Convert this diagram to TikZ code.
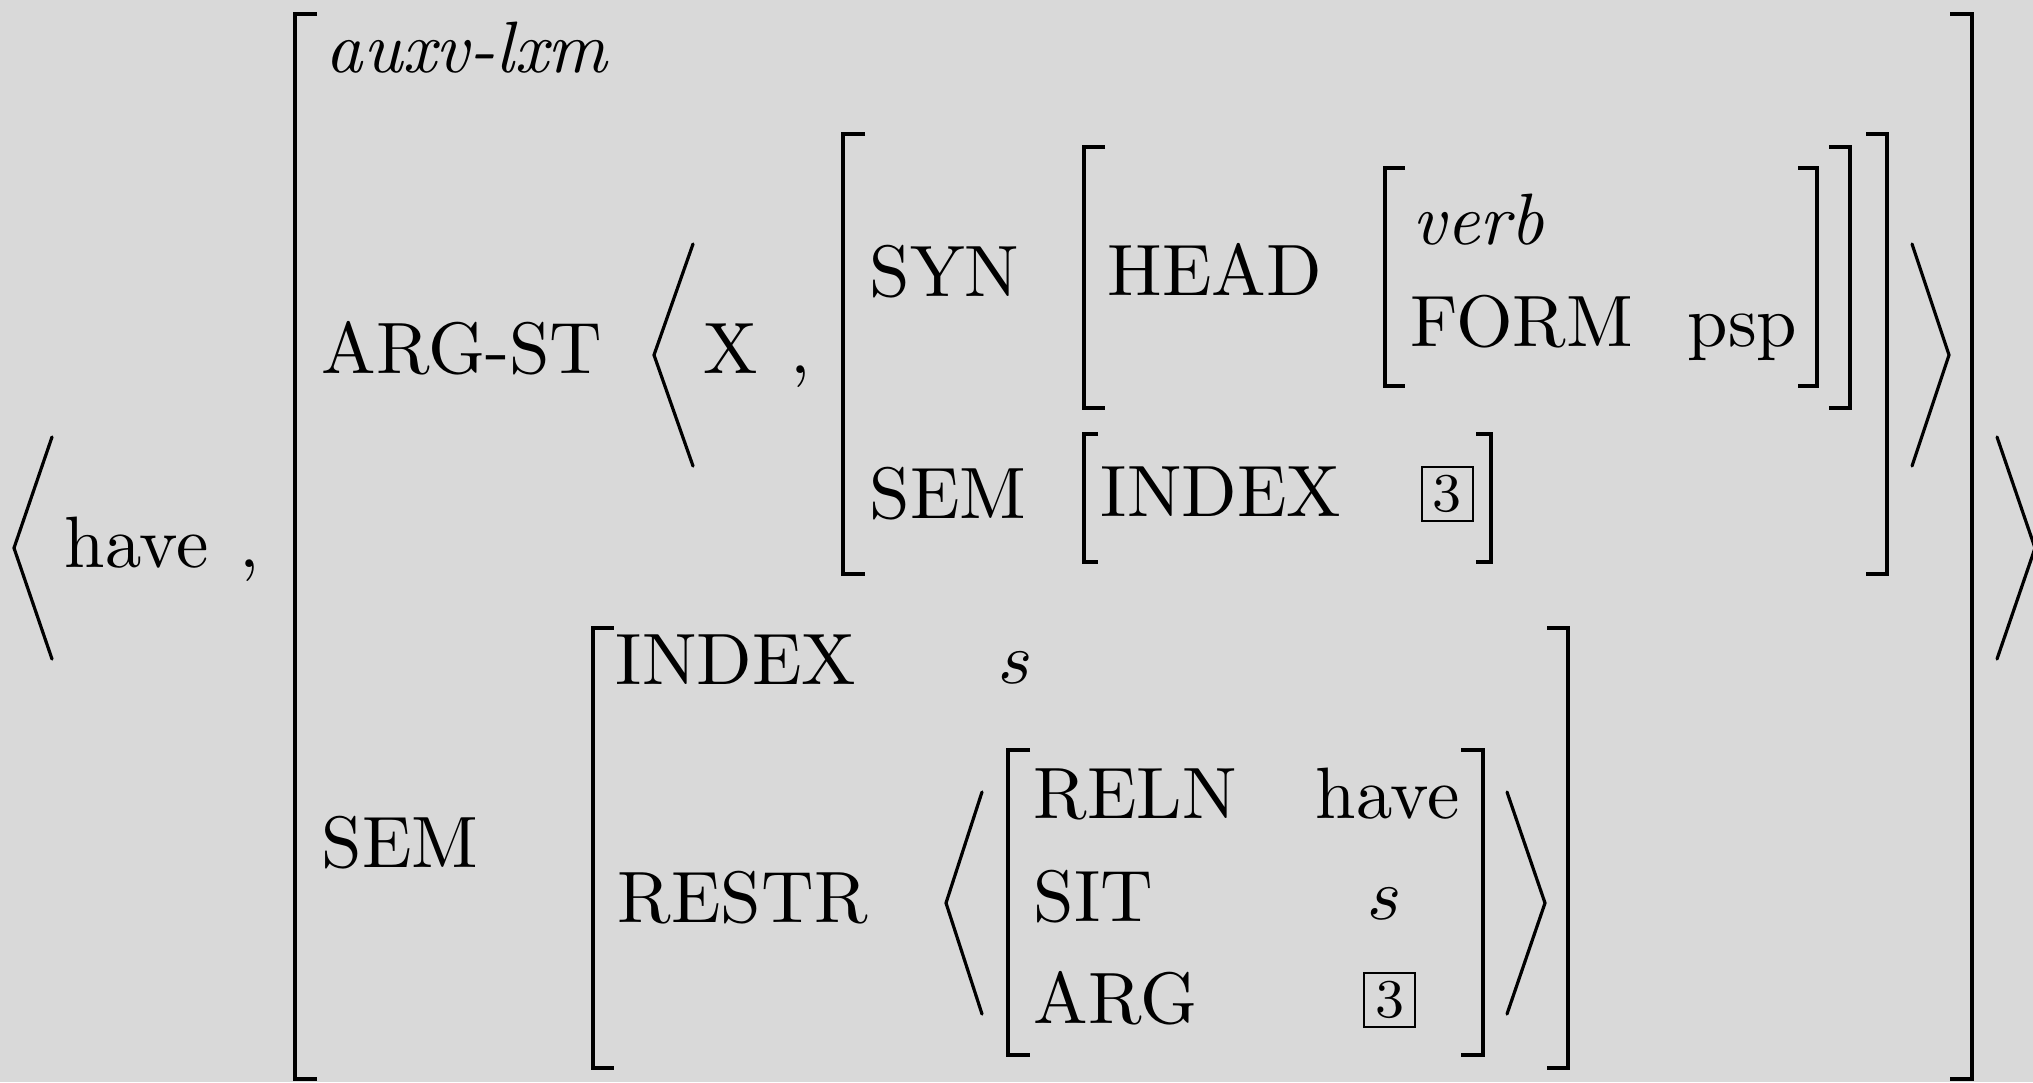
\documentclass[tikz,border=0pt]{standalone}
\usepackage{fontspec}
\usepackage{graphicx}
\definecolor{bgcol}{RGB}{217,217,217}
\newcommand{\avm}[1]{\scalebox{1.82}{\fontsize{10}{12}\selectfont #1}}
\newcommand{\avmit}[1]{\scalebox{1.82}{\fontsize{10}{12}\selectfont\itshape #1}}
\newcommand{\avmtag}[1]{\scalebox{1.82}{\fontsize{7.5}{9}\selectfont #1}}
\tikzset{
  lbl/.style={anchor=base west, inner sep=0pt},
  brk/.style={line width=1.15pt, line cap=butt, line join=miter},
  thinbrk/.style={brk, line width=0.85pt},
  ang/.style={line width=0.8pt, line cap=round, line join=miter},
  tagbox/.style={draw, line width=0.5pt, inner sep=0pt, minimum width=12.8pt, minimum height=13.5pt}
}
\begin{document}
\begin{tikzpicture}[x=0.25pt,y=-0.25pt]
\useasboundingbox (0,0) rectangle (2033,1082);
\fill[bgcol] (0,0) rectangle (2033,1082);

% outer angle brackets
\draw[ang] (52,437) -- (14,548) -- (52,659);
\draw[ang] (1997,437) -- (2035,548) -- (1997,659);
\node[lbl] (have) at (64,567) {\avm{have}};
\node[lbl] (c1) at (239,567) {\avm{,}};

% outermost AVM brackets
\draw[brk] (317,14) -- (295,14) -- (295,1079) -- (317,1079);
\draw[brk] (1950,14) -- (1972,14) -- (1972,1079) -- (1950,1079);
\node[lbl] (type) at (325,72) {\avmit{auxv-lxm}};

% ARG-ST
\node[lbl] (argst) at (321,373) {\avm{ARG-ST}};
\draw[ang] (693,244) -- (654,355) -- (693,466);
\draw[ang] (1912,244) -- (1949,355) -- (1912,466);
\node[lbl] (x) at (703,373) {\avm{X}};
\node[lbl] (c2) at (790,373) {\avm{,}};
\draw[brk] (865,134) -- (843,134) -- (843,574) -- (865,574);
\draw[brk] (1866,134) -- (1887,134) -- (1887,574) -- (1866,574);
\node[lbl] (syn) at (869,296.5) {\avm{SYN}};
\node[lbl] (sem1) at (869,518.5) {\avm{SEM}};
\draw[brk] (1105,147) -- (1084,147) -- (1084,408) -- (1105,408);
\draw[brk] (1829,147) -- (1850,147) -- (1850,408) -- (1829,408);
\node[lbl] (head) at (1107,295.5) {\avm{HEAD}};
\draw[brk] (1405,168) -- (1385,168) -- (1385,386) -- (1405,386);
\draw[brk] (1798,168) -- (1817,168) -- (1817,386) -- (1798,386);
\node[lbl] (verb) at (1412,244) {\avmit{verb}};
\node[lbl] (form) at (1410,346) {\avm{FORM}};
\node[lbl] (psp) at (1687,346) {\avm{psp}};
\draw[thinbrk] (1098,434) -- (1084,434) -- (1084,562) -- (1098,562);
\draw[thinbrk] (1476,434) -- (1491,434) -- (1491,562) -- (1476,562);
\node[lbl] (index1) at (1100,516.6) {\avm{INDEX}};
\node[tagbox] (tag1) at (1447.3,493.7) {\avmtag{3}};

% SEM
\node[lbl] (sem2) at (321,867) {\avm{SEM}};
\draw[brk] (613.5,628) -- (593,628) -- (593,1068) -- (613.5,1068);
\draw[brk] (1547,628) -- (1568,628) -- (1568,1068) -- (1547,1068);
\node[lbl] (index2) at (615,684.5) {\avm{INDEX}};
\node[lbl] (s1) at (998,683) {\avm{$s$}};
\node[lbl] (restr) at (617,922) {\avm{RESTR}};
\draw[ang] (982,792) -- (946,903) -- (982,1014);
\draw[ang] (1507,792) -- (1545,903) -- (1507,1014);
\draw[brk] (1030,750) -- (1008,750) -- (1008,1055) -- (1030,1055);
\draw[brk] (1461,750) -- (1483,750) -- (1483,1055) -- (1461,1055);
\node[lbl] (reln) at (1033,818.5) {\avm{RELN}};
\node[lbl] (have2) at (1315,818.5) {\avm{have}};
\node[lbl] (sit) at (1033,921) {\avm{SIT}};
\node[lbl] (s2) at (1367,919.5) {\avm{$s$}};
\node[lbl] (arg) at (1033,1023) {\avm{ARG}};
\node[tagbox] (tag2) at (1389.5,1000) {\avmtag{3}};
\end{tikzpicture}
\end{document}
